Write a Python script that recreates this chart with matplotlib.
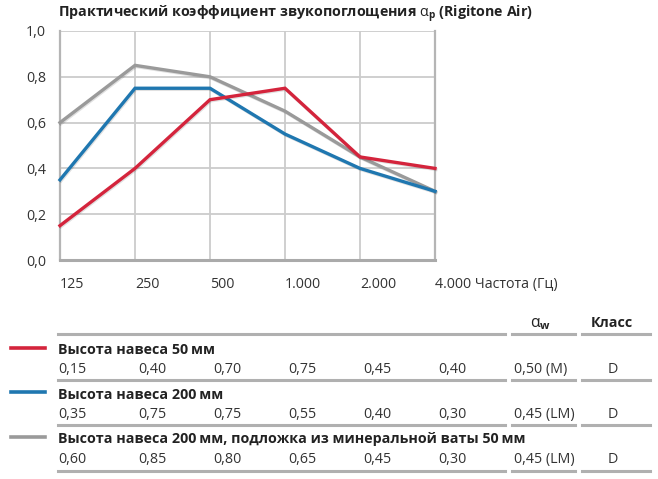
import matplotlib
matplotlib.use("Agg")
import matplotlib.pyplot as plt
from matplotlib.lines import Line2D
import matplotlib.patheffects as pe

plt.rcParams['font.family'] = ['Open Sans', 'DejaVu Sans']
plt.rcParams['mathtext.fontset'] = 'custom'
plt.rcParams['mathtext.rm'] = 'Open Sans'
plt.rcParams['mathtext.it'] = 'Open Sans:italic'
plt.rcParams['mathtext.bf'] = 'Open Sans:bold'

# ---- data ----
freq_labels = ["125", "250", "500", "1.000", "2.000", "4.000 Частота (Гц)"]
y_ticks = [0.0, 0.2, 0.4, 0.6, 0.8, 1.0]
y_tick_labels = ["0,0", "0,2", "0,4", "0,6", "0,8", "1,0"]

series_names = ["Высота навеса 50\u2009мм",
                "Высота навеса 200\u2009мм",
                "Высота навеса 200\u2009мм, подложка из минеральной ваты 50\u2009мм"]
red_vals = [0.15, 0.40, 0.70, 0.75, 0.45, 0.40]
blue_vals = [0.35, 0.75, 0.75, 0.55, 0.40, 0.30]
grey_vals = [0.60, 0.85, 0.80, 0.65, 0.45, 0.30]
alpha_w = ["0,50 (M)", "0,45 (LM)", "0,45 (LM)"]
klass = ["D", "D", "D"]
colors = ["#d4243c", "#1f77b0", "#9a9a9a"]

W, H = 658, 479
fig = plt.figure(figsize=(W / 100, H / 100), dpi=100)

def fx(px):
    return px / W

def fy(py):
    return 1 - py / H

FS = 10.3
BL = 5  # baseline offset from visual centre, px

ax = fig.add_axes([fx(60), fy(260), fx(435) - fx(60), fy(31) - fy(260)])
xs = list(range(len(freq_labels)))
ax.set_xlim(0, 5)
ax.set_ylim(0, 1)

for v in y_ticks:
    ax.axhline(v, color="#cccccc", lw=1.3, zorder=1)
for x in xs:
    ax.axvline(x, color="#cccccc", lw=1.3, zorder=1)

ax.spines["top"].set_visible(False)
ax.spines["left"].set_color("#b5b5b5")
ax.spines["left"].set_linewidth(1.6)
ax.spines["bottom"].set_color("#aaaaaa")
ax.spines["bottom"].set_linewidth(2.2)
ax.spines["right"].set_color("#b5b5b5")
ax.spines["right"].set_linewidth(1.6)

shadow = [pe.SimpleLineShadow(offset=(0.6, -0.8), shadow_color="#000000", alpha=0.12), pe.Normal()]
all_vals = [red_vals, blue_vals, grey_vals]
for vals, c, z in zip(all_vals[::-1], colors[::-1], [3, 4, 5]):
    ax.plot(xs, vals, color=c, lw=2.4, zorder=z, solid_joinstyle="miter",
            path_effects=shadow, clip_on=False)

ax.set_yticks(y_ticks)
ax.set_yticklabels(y_tick_labels, fontsize=FS, color="#333333")
ax.set_xticks(xs)
ax.set_xticklabels(freq_labels, fontsize=FS, color="#333333", ha="left")
ax.tick_params(axis="both", length=0)
ax.tick_params(axis="y", pad=10)
ax.tick_params(axis="x", pad=12)

# title
fig.text(fx(58), fy(13 + BL), "Практический коэффициент звукопоглощения $\\mathrm{\\alpha}_\\mathbf{p}$ (Rigitone Air)",
         fontsize=FS, fontweight="bold", color="#222222", va="baseline", ha="left")

# table
col_x = [58, 138, 213, 288, 363, 438]
aw_x = 514
kl_x = 613
seg = [(58, 505), (512, 575), (582, 650)]
line_y = [334, 380, 425, 471]
title_y = [349, 394, 438]
val_y = [368, 413, 458]
leg_y = [348, 392, 437]

fig.text(fx(530), fy(322 + BL), "$\\mathrm{\\alpha}_\\mathbf{w}$", fontsize=FS + 1, color="#222222",
         va="baseline", ha="left")
fig.text(fx(591), fy(322 + BL), "Класс", fontsize=FS, fontweight="bold", color="#222222",
         va="baseline", ha="left")

for ly in line_y:
    for a, b in seg:
        fig.add_artist(Line2D([fx(a), fx(b)], [fy(ly), fy(ly)], color="#b0b0b0", lw=2.2))

for i, (name, vals, c) in enumerate(zip(series_names, all_vals, colors)):
    fig.add_artist(Line2D([fx(11), fx(45)], [fy(leg_y[i]), fy(leg_y[i])], color=c, lw=2.6))
    fig.text(fx(58), fy(title_y[i] + BL), name, fontsize=FS, fontweight="bold", color="#222222",
             va="baseline", ha="left")
    for x, v in zip(col_x, vals):
        fig.text(fx(x), fy(val_y[i] + BL), f"{v:.2f}".replace(".", ","), fontsize=FS,
                 color="#333333", va="baseline", ha="left")
    fig.text(fx(aw_x), fy(val_y[i] + BL), alpha_w[i], fontsize=FS, color="#333333",
             va="baseline", ha="left")
    fig.text(fx(kl_x), fy(val_y[i] + BL), klass[i], fontsize=FS, color="#333333",
             va="baseline", ha="center")

fig.savefig("out.png", dpi=100)
